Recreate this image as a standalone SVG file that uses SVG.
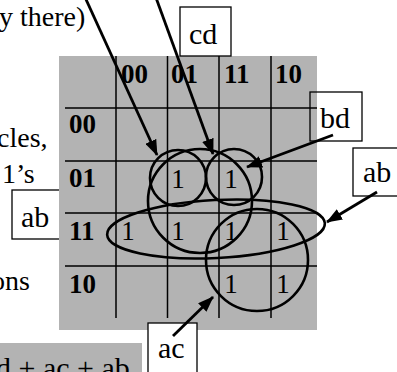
<svg xmlns="http://www.w3.org/2000/svg" width="397" height="372" viewBox="0 0 397 372">
<style>
text{font-family:"Liberation Serif","DejaVu Serif","Times New Roman",serif;fill:#000}
.t{font-size:28px}
.lb{font-size:30px}
.h{font-size:27px;font-weight:bold}
.one{font-size:27px;text-anchor:middle}
.grid{stroke:#000;stroke-width:1.5;fill:none}
.box{fill:none;stroke:#000;stroke-width:1.3}
.loop{fill:none;stroke:#000;stroke-width:2.6}
.arr{stroke:#000;stroke-width:2.8;fill:none}
</style>
<defs>
<marker id="ah" markerWidth="16" markerHeight="12" refX="15" refY="6" orient="auto" markerUnits="userSpaceOnUse">
<path d="M0,0 L16,6 L0,12 Z" fill="#000"/>
</marker>
</defs>
<rect width="397" height="372" fill="#fff"/>
<g id="text-left">
<text class="t" x="-1" y="26">y there)</text>
<text class="t" x="-3" y="147">cles,</text>
<text class="t" x="2" y="183">1’s</text>
<text class="t" x="-9" y="290">ons</text>
</g>
<g id="label-ab-left">
<rect class="box" x="12" y="190" width="60" height="49"/>
<text class="lb" x="21" y="227">ab</text>
</g>
<g id="kmap">
<rect x="59" y="56" width="258" height="274" fill="#b3b3b3"/>
<path class="grid" d="M116,56V318M167.5,56V318M219,56V318M271,56V318M65,108H317M65,161H317M65,213H317M65,266H317"/>
<text class="h" x="121" y="83">00</text>
<text class="h" x="171" y="83">01</text>
<text class="h" x="224" y="83">11</text>
<text class="h" x="275" y="83">10</text>
<text class="h" x="69" y="133">00</text>
<text class="h" x="69" y="187">01</text>
<text class="h" x="69" y="240">11</text>
<text class="h" x="69" y="293">10</text>
<text class="one" x="178" y="188">1</text>
<text class="one" x="231" y="188">1</text>
<text class="one" x="128" y="240">1</text>
<text class="one" x="178" y="240">1</text>
<text class="one" x="231" y="240">1</text>
<text class="one" x="283" y="240">1</text>
<text class="one" x="231" y="293">1</text>
<text class="one" x="283" y="293">1</text>
</g>
<g id="loops">
<circle class="loop" cx="178" cy="178" r="28"/>
<circle class="loop" cx="234" cy="177" r="28"/>
<circle class="loop" cx="200" cy="201" r="52"/>
<ellipse class="loop" cx="216" cy="229" rx="109" ry="29" transform="rotate(-3 216 229)"/>
<circle class="loop" cx="257" cy="260" r="51"/>
</g>
<g id="label-cd">
<rect class="box" x="180" y="7" width="51" height="49"/>
<text class="lb" x="189" y="44">cd</text>
</g>
<g id="label-bd">
<rect class="box" x="310" y="92" width="52" height="49"/>
<text class="lb" x="320" y="128">bd</text>
</g>
<g id="label-ab-right">
<rect class="box" x="353" y="148" width="46" height="48"/>
<text class="lb" x="363" y="182">ab</text>
</g>
<g id="label-ac">
<rect x="148" y="323" width="49" height="52" fill="#fff" stroke="#000" stroke-width="1.3"/>
<text class="lb" x="158" y="358">ac</text>
</g>
<g id="expr">
<rect x="0" y="343" width="142" height="29" fill="#b3b3b3"/>
<text class="lb" x="-4" y="378">d + ac + ab</text>
</g>
<g id="connectors">
<line class="arr" x1="84" y1="-5" x2="157" y2="155" marker-end="url(#ah)"/>
<line class="arr" x1="155" y1="-5" x2="213" y2="154" marker-end="url(#ah)"/>
<line class="arr" x1="333" y1="135" x2="247" y2="167" marker-end="url(#ah)"/>
<line class="arr" x1="377" y1="192" x2="327" y2="222" marker-end="url(#ah)"/>
<line class="arr" x1="173" y1="336" x2="213" y2="297" marker-end="url(#ah)"/>
</g>
</svg>
